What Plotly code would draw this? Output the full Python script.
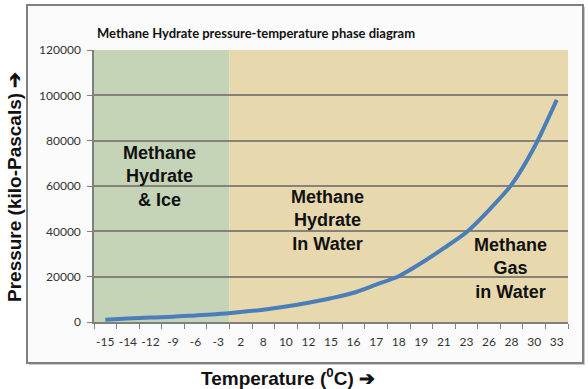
import plotly.graph_objects as go

temps = ["-15", "-14", "-12", "-9", "-6", "-3", "2", "8", "10", "12", "15",
         "16", "17", "18", "19", "21", "23", "26", "28", "30", "33"]
pressure = [1000, 1500, 2000, 2300, 2900, 3500, 4400, 5400, 6800, 8500, 10500,
            12900, 16500, 20200, 26000, 32600, 39600, 49400, 60600, 77000, 98000]
y_ticks = [0, 20000, 40000, 60000, 80000, 100000, 120000]
ice_end = "-3"

title = "Methane Hydrate pressure-temperature phase diagram"
labels = [
    ("Methane<br>Hydrate<br>& Ice", 2.42, 64000),
    ("Methane<br>Hydrate<br>In Water", 9.85, 45000),
    ("Methane<br>Gas<br>in Water", 17.95, 23800),
]

n = len(temps)
split = temps.index(ice_end) + 0.5

fig = go.Figure()
fig.add_trace(go.Scatter(
    x=temps, y=pressure, mode="lines",
    line=dict(color="#4a7ebb", width=4, shape="spline", smoothing=0.8),
    hoverinfo="x+y", showlegend=False,
))

W, H = 588, 389
L, R, T, B = 94, 20, 50, 67
pw, ph = W - L - R, H - T - B

def px(x):
    return (x - L) / pw

def py(y):
    return (H - B - y) / ph

shapes = [
    dict(type="rect", xref="paper", yref="paper", x0=px(29), x1=px(585), y0=py(365), y1=py(7),
         fillcolor="#c8c8c8", line=dict(width=0), layer="below"),
    dict(type="rect", xref="paper", yref="paper", x0=px(27), x1=px(583), y0=py(363), y1=py(5),
         fillcolor="#fbfbfb", line=dict(color="#808080", width=2), layer="below"),
    dict(type="rect", xref="x", yref="y", x0=-0.5, x1=split, y0=0, y1=120000,
         fillcolor="#c5d3b6", line=dict(width=0), layer="below"),
    dict(type="rect", xref="x", yref="y", x0=split, x1=n - 0.5, y0=0, y1=120000,
         fillcolor="#e7d8ad", line=dict(width=0), layer="below"),
]

annotations = [
    dict(text=f"<b>{t}</b>", x=x, y=y, xref="x", yref="y", showarrow=False,
         font=dict(family="Liberation Sans, Arial", size=18, color="#111111"), align="center")
    for t, x, y in labels
]
annotations.append(dict(
    text="<b>Pressure (kilo-Pascals) ➔</b>", xref="paper", yref="paper",
    x=px(14), y=py(187), xanchor="center", yanchor="middle", textangle=-90, showarrow=False,
    font=dict(family="Liberation Sans, Arial", size=19, color="#111111")))
annotations.append(dict(
    text="<b>Temperature (<sup>0</sup>C) ➔</b>", xref="paper", yref="paper",
    x=px(288), y=py(377), xanchor="center", yanchor="middle", showarrow=False,
    font=dict(family="Liberation Sans, Arial", size=19, color="#111111")))
annotations.append(dict(
    text=f"<b>{title}</b>", xref="paper", yref="paper",
    x=px(95), y=py(33), xanchor="left", yanchor="middle", showarrow=False,
    font=dict(family="Lato, Open Sans", size=13, color="#111111")))

fig.update_layout(
    width=W, height=H,
    margin=dict(l=L, r=R, t=T, b=B, autoexpand=False),
    paper_bgcolor="white",
    plot_bgcolor="rgba(0,0,0,0)",
    shapes=shapes,
    annotations=annotations,
    xaxis=dict(
        type="category", categoryorder="array", categoryarray=temps,
        range=[-0.5, n - 0.5], showgrid=False, zeroline=False,
        showline=True, linecolor="#7f7f7f", linewidth=1.5,
        ticks="outside", tickson="boundaries", ticklen=5, tickcolor="#7f7f7f",
        tickangle=0, automargin=False,
        tickfont=dict(family="Lato, Open Sans", size=12, color="#333333"),
        ticklabelstandoff=8, fixedrange=True,
    ),
    yaxis=dict(
        range=[0, 120000], tickvals=y_ticks, ticktext=[str(v) for v in y_ticks],
        showgrid=True, gridcolor="#858279", gridwidth=1.5, zeroline=False,
        showline=True, linecolor="#7f7f7f", linewidth=1.5,
        ticks="outside", ticklen=5, tickcolor="#7f7f7f", automargin=False,
        tickfont=dict(family="Lato, Open Sans", size=12, color="#333333"),
        ticklabelstandoff=4, fixedrange=True,
    ),
)

fig.write_html("out.html", config={"displayModeBar": False},
               post_script="document.body.style.margin='0';")
